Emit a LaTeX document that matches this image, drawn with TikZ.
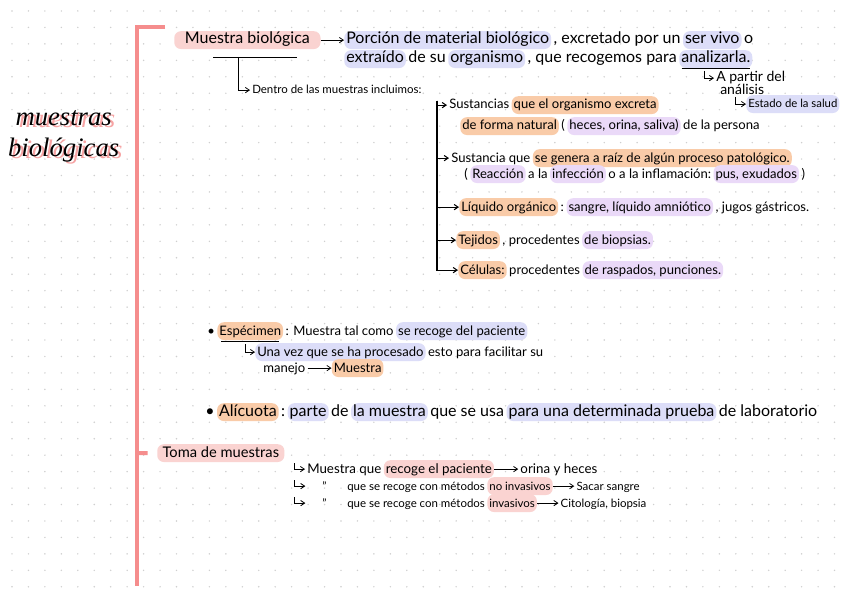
\documentclass[tikz,border=0pt]{standalone}
\usepackage{fontspec}
\setmainfont{Lato}
\newfontfamily\titlefont{Liberation Serif}
\usetikzlibrary{arrows.meta, positioning, calc}

\definecolor{hlpinkc}{HTML}{FAD3D1}
\definecolor{hlbluec}{HTML}{DCDDF8}
\definecolor{hlorangec}{HTML}{F9CBA8}
\definecolor{hlpurplec}{HTML}{EAD9F8}
\definecolor{bracketc}{HTML}{F58D8D}
\definecolor{shadowc}{HTML}{F7A3A3}
\definecolor{dotc}{HTML}{CFCFCF}

\newcommand{\fbig}{\fontsize{12}{14}\selectfont}
\newcommand{\fdef}{\fontsize{12}{14}\selectfont}
\newcommand{\fali}{\fontsize{12}{14}\selectfont}
\newcommand{\fitem}{\fontsize{9.8}{12}\selectfont}
\newcommand{\fsmall}{\fontsize{8.6}{10}\selectfont}
\newcommand{\ftiny}{\fontsize{8.5}{10}\selectfont}

\begin{document}
\begin{tikzpicture}[
  x=0.75pt, y=-0.75pt,
  >=Stealth,
  txt/.style={inner xsep=1.5pt, inner ysep=1.5pt, text height=1.6ex, text depth=.45ex, anchor=base west, rounded corners=5pt},
  hlpink/.style={txt, fill=hlpinkc},
  hlblue/.style={txt, fill=hlbluec},
  hlorange/.style={txt, fill=hlorangec},
  hlpurple/.style={txt, fill=hlpurplec},
  arr/.style={-{Straight Barb[length=3pt, width=4pt]}, line width=0.6pt},
  bracket/.style={draw=bracketc, line width=3pt},
  titletxt/.style={font=\titlefont\itshape\fontsize{20}{23}\selectfont, align=center}
]
\useasboundingbox (0,0) rectangle (848,599);
\fill[white] (0,0) rectangle (848,599);

% DOT GRID
\foreach \i in {0,...,50}
  \foreach \j in {0,...,35}
    \fill[dotc] ({12+16.45*\i},{11+16.45*\j}) circle (0.8);

% PINK BRACKET
\coordinate (brtop) at (165,27);
\coordinate (brcorner) at (137,27);
\coordinate (brbot) at (137,586);
\draw[bracket] (brtop) -- (brcorner) -- (brbot);

% TITLE
\node[titletxt, text=shadowc] (titleshadow) at (67,138) {muestras\\biológicas};
\node[titletxt] (title) at ([xshift=-2.5pt, yshift=1.5pt]titleshadow.center) {muestras\\biológicas};

% MUESTRA BIOLOGICA
\node[hlpink, font=\fbig, inner xsep=8pt] (mb) at (174,44) {Muestra biológica};
\node[hlblue, font=\fdef] (d1a) at (344,44) {Porción de material biológico};
\node[txt, font=\fdef] (d1b) at (d1a.base east) {, excretado por un};
\node[hlblue, font=\fdef] (d1c) at (d1b.base east) {ser vivo};
\node[txt, font=\fdef] (d1d) at (d1c.base east) {o};
\draw[arr] (mb) -- (d1a);

\node[hlblue, font=\fdef] (d2a) at (344,63) {extraído};
\node[txt, font=\fdef] (d2b) at (d2a.base east) {de su};
\node[hlblue, font=\fdef] (d2c) at (d2b.base east) {organismo};
\node[txt, font=\fdef] (d2d) at (d2c.base east) {, que recogemos para};
\node[hlblue, font=\fdef] (d2e) at (d2d.base east) {analizarla.};
\draw[line width=0.6pt] ([xshift=2pt]d2e.south west) -- ([xshift=-2pt]d2e.south east);

\node[txt, font=\fontsize{10.5}{12}\selectfont] (apartir) at (714,82) {A partir del};
\node[txt, font=\fontsize{10.5}{12}\selectfont] (analisis) at (718,95) {análisis};
\node[hlblue, font=\ftiny] (salud) at (746,108) {Estado de la salud};
\coordinate (hookap) at (704,71);
\coordinate (hooksal) at (735,97);
\draw[arr] (hookap) |- (apartir.west);
\draw[arr] (hooksal) |- (salud.west);

% DENTRO DE LAS MUESTRAS
\coordinate (ulL) at (213,57);
\coordinate (ulR) at (297,57);
\coordinate (ulM) at (238,57);
\draw[line width=0.7pt] (ulL) -- (ulR);
\node[txt, font=\fsmall] (dentro) at (250,94) {Dentro de las muestras incluimos:};
\draw[arr] (ulM) |- (dentro.west);

% LIST OF SAMPLES
\node[txt, font=\fitem] (s1) at (447,109) {Sustancias};
\node[hlorange, font=\fitem] (s1a) at (s1.base east) {que el organismo excreta};
\node[hlorange, font=\fitem] (s1b) at (460,130) {de forma natural};
\node[txt, font=\fitem] (s1c) at (s1b.base east) {(};
\node[hlpurple, font=\fitem] (s1d) at (s1c.base east) {heces, orina, saliva)};
\node[txt, font=\fitem] (s1e) at (s1d.base east) {de la persona};

\node[txt, font=\fitem] (s2) at (449,162) {Sustancia que};
\node[hlorange, font=\fitem] (s2a) at (s2.base east) {se genera a raíz de algún proceso patológico.};
\node[txt, font=\fitem] (s2b) at (462,178) {(};
\node[hlpurple, font=\fitem] (s2c) at (s2b.base east) {Reacción};
\node[txt, font=\fitem] (s2d) at (s2c.base east) {a la};
\node[hlpurple, font=\fitem] (s2e) at (s2d.base east) {infección};
\node[txt, font=\fitem] (s2f) at (s2e.base east) {o a la inflamación:};
\node[hlpurple, font=\fitem] (s2g) at (s2f.base east) {pus, exudados};
\node[txt, font=\fitem] (s2h) at (s2g.base east) {)};

\node[hlorange, font=\fitem] (s3) at (459,211) {Líquido orgánico};
\node[txt, font=\fitem] (s3a) at (s3.base east) {:};
\node[hlpurple, font=\fitem] (s3b) at (s3a.base east) {sangre, líquido amniótico};
\node[txt, font=\fitem] (s3c) at (s3b.base east) {, jugos gástricos.};

\node[hlorange, font=\fitem] (s4) at (456,244) {Tejidos};
\node[txt, font=\fitem] (s4a) at (s4.base east) {, procedentes};
\node[hlpurple, font=\fitem] (s4b) at (s4a.base east) {de biopsias.};

\node[hlorange, font=\fitem] (s5) at (458,274) {Células:};
\node[txt, font=\fitem] (s5a) at (s5.base east) {procedentes};
\node[hlpurple, font=\fitem] (s5b) at (s5a.base east) {de raspados, punciones.};

\coordinate (listtop) at (437,101);
\draw[line width=0.8pt] (listtop) -- (437,271);
\foreach \n in {s1,s2,s3,s4,s5}
  \draw[arr, line width=0.8pt] (listtop) |- (\n.west);

% ESPECIMEN
\node[txt, font=\fitem] (espdot) at (205,335) {•};
\node[hlorange, font=\fitem] (esp) at (espdot.base east) {Espécimen};
\node[txt, font=\fitem] (espa) at (esp.base east) {: Muestra tal como};
\node[hlblue, font=\fitem] (espb) at (espa.base east) {se recoge del paciente};
\draw[line width=0.9pt] ([xshift=3pt, yshift=-1pt]esp.south west) -- ([xshift=-3pt, yshift=-1pt]esp.south east);

\node[hlblue, font=\fitem] (vez) at (255,356) {Una vez que se ha procesado};
\node[txt, font=\fitem] (veza) at (vez.base east) {esto para facilitar su};
\coordinate (hookvez) at (245,344);
\draw[arr] (hookvez) |- (vez.west);
\node[txt, font=\fitem] (manejo) at (261,372) {manejo};
\node[hlorange, font=\fitem] (mu2) at ([xshift=18pt]manejo.base east) {Muestra};
\draw[arr] (manejo) -- (mu2);

% ALICUOTA
\node[txt, font=\fali] (alidot) at (203,416) {•};
\node[hlorange, font=\fali] (ali) at (alidot.base east) {Alícuota};
\node[txt, font=\fali] (alia) at (ali.base east) {:};
\node[hlblue, font=\fali] (alib) at (alia.base east) {parte};
\node[txt, font=\fali] (alic) at (alib.base east) {de};
\node[hlblue, font=\fali] (alid) at (alic.base east) {la muestra};
\node[txt, font=\fali] (alie) at (alid.base east) {que se usa};
\node[hlblue, font=\fali] (alif) at (alie.base east) {para una determinada prueba};
\node[txt, font=\fali] (alig) at (alif.base east) {de laboratorio};

% TOMA DE MUESTRAS
\node[hlpink, font=\fontsize{11}{13}\selectfont, inner xsep=4pt] (toma) at (157,457) {Toma de muestras};
\coordinate (tick) at (137,453);
\draw[bracket, shorten >=7pt] (tick) -- (toma.west);

\node[txt, font=\fontsize{10}{12}\selectfont] (t1) at (305,473) {Muestra que};
\node[hlpink, font=\fontsize{10}{12}\selectfont] (t1a) at (t1.base east) {recoge el paciente};
\node[txt, font=\fontsize{10}{12}\selectfont] (t1b) at ([xshift=18pt]t1a.base east) {orina y heces};
\draw[arr] (t1a) -- (t1b);

\node[txt, font=\fsmall] (dit2) at (320,490) {''};
\node[txt, font=\fsmall] (t2) at (345,490) {que se recoge con métodos};
\node[hlpink, font=\fsmall] (t2a) at (t2.base east) {no invasivos};
\node[txt, font=\fsmall] (t2b) at ([xshift=16pt]t2a.base east) {Sacar sangre};
\draw[arr] (t2a) -- (t2b);

\node[txt, font=\fsmall] (dit3) at (320,507) {''};
\node[txt, font=\fsmall] (t3) at (345,507) {que se recoge con métodos};
\node[hlpink, font=\fsmall] (t3a) at (t3.base east) {invasivos};
\node[txt, font=\fsmall] (t3b) at ([xshift=16pt]t3a.base east) {Citología, biopsia};
\draw[arr] (t3a) -- (t3b);

\coordinate (hookt1) at (294,463);
\coordinate (hookt2) at (294,480);
\coordinate (hookt3) at (294,497);
\draw[arr] (hookt1) |- (t1.west);
\draw[arr] (hookt2) |- ([xshift=-11pt]dit2.west);
\draw[arr] (hookt3) |- ([xshift=-11pt]dit3.west);

\end{tikzpicture}
\end{document}
